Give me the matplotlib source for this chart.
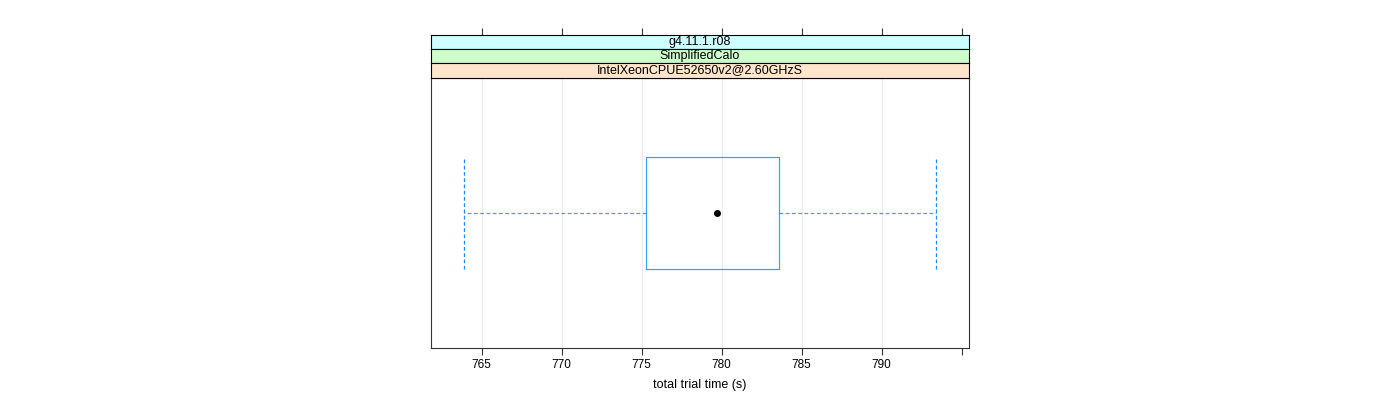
import matplotlib
matplotlib.use('Agg')
import matplotlib.pyplot as plt

# box statistics (seconds)
whisker_lo = 763.9
q1 = 775.3
median = 779.7
q3 = 783.6
whisker_hi = 793.4

strip_labels = ['g4.11.1.r08', 'SimplifiedCalo', 'IntelXeonCPUE52650v2@2.60GHzS']
strip_colors = ['#ccffff', '#ccffcc', '#ffe5cc']

tick_values = [765, 770, 775, 780, 785, 790, 795]
tick_labels = ['765', '770', '775', '780', '785', '790', '']

plt.rcParams['font.family'] = ['Liberation Sans', 'DejaVu Sans']

fig = plt.figure(figsize=(14, 4), dpi=100)
W, H = 1400, 400
left, right = 431 / W, 969 / W
ax = fig.add_axes([left, 1 - 348 / H, right - left, (348 - 78) / H])

span = whisker_hi - whisker_lo
xlim = (whisker_lo - 0.07 * span, whisker_hi + 0.07 * span)

blue = '#0080ff'
stats = [dict(whislo=whisker_lo, q1=q1, med=median, q3=q3, whishi=whisker_hi, fliers=[])]
ax.bxp(stats, positions=[1], widths=0.5, capwidths=0.5, orientation='horizontal',
       showfliers=False,
       boxprops=dict(color=blue, lw=0.9, alpha=0.75),
       whiskerprops=dict(color=blue, lw=0.9, ls=(0, (3, 2)), alpha=0.75),
       capprops=dict(color=blue, lw=0.9, ls=(0, (3, 2)), alpha=0.9),
       medianprops=dict(visible=False))
ax.plot([median], [1], 'o', color='black', ms=4, zorder=5)

ax.set_xlim(xlim)
ax.set_ylim(0.4, 1.6)
ax.set_yticks([])
for v in tick_values[:-1]:
    ax.axvline(v, color='#ececec', lw=0.9, zorder=0)
ax.set_xticks(tick_values)
ax.set_xticklabels(tick_labels, fontsize=8.5)
ax.tick_params(axis='x', direction='out', length=5, width=0.8, color='#333333', pad=3)
for s in ax.spines.values():
    s.set_linewidth(0.8)
    s.set_color('#333333')
ax.set_xlabel('total trial time (s)', fontsize=9, labelpad=6)

# strips, drawn top to bottom
edges = [35, 49, 63, 78]
for i, (lab, col) in enumerate(zip(strip_labels, strip_colors)):
    y0, y1 = edges[i], edges[i + 1]
    sax = fig.add_axes([left, 1 - y1 / H, right - left, (y1 - y0) / H])
    sax.set_facecolor(col)
    sax.set_xlim(xlim)
    sax.set_ylim(0, 1)
    sax.set_yticks([])
    if i == 0:
        sax.xaxis.tick_top()
        sax.set_xticks(tick_values)
        sax.set_xticklabels([])
        sax.tick_params(axis='x', direction='out', length=5, width=0.8, color='#333333')
    else:
        sax.set_xticks([])
    for s in sax.spines.values():
        s.set_linewidth(0.8)
        s.set_color('black')
    sax.text(0.5, 0.5, lab, transform=sax.transAxes, ha='center', va='center', fontsize=9)

fig.savefig('out.png', dpi=100)
